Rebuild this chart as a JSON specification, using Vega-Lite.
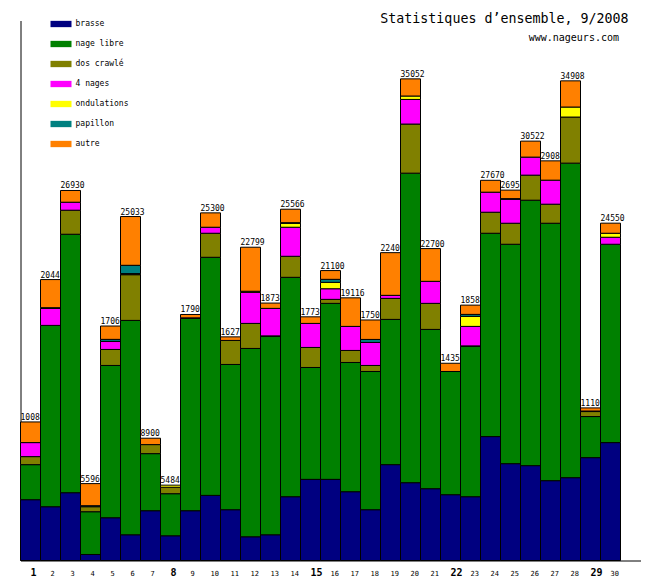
{
  "$schema": "https://vega.github.io/schema/vega-lite/v6.json",
  "width": 620,
  "height": 540,
  "autosize": {"type": "none"},
  "padding": {"left": 20.5, "top": 20.5, "right": 19.5, "bottom": 19.5},
  "background": "white",
  "config": {"view": {"stroke": null}, "font": "DejaVu Sans Mono"},
  "title": {
    "text": "Statistiques d’ensemble, 9/2008",
    "anchor": "end",
    "frame": "group",
    "orient": "top",
    "font": "DejaVu Sans Mono",
    "fontSize": 13.3,
    "fontWeight": "normal",
    "color": "black",
    "offset": -12,
    "dx": -12
  },
  "data": {
    "values": [
      {"jour": 1, "nage": "brasse", "valeur": 4425}, {"jour": 1, "nage": "nage libre", "valeur": 2551}, {"jour": 1, "nage": "dos crawlé", "valeur": 584}, {"jour": 1, "nage": "4 nages", "valeur": 1020}, {"jour": 1, "nage": "autre", "valeur": 1504},
      {"jour": 2, "nage": "brasse", "valeur": 3915}, {"jour": 2, "nage": "nage libre", "valeur": 13195}, {"jour": 2, "nage": "4 nages", "valeur": 1239}, {"jour": 2, "nage": "papillon", "valeur": 50}, {"jour": 2, "nage": "autre", "valeur": 2046},
      {"jour": 3, "nage": "brasse", "valeur": 4935}, {"jour": 3, "nage": "nage libre", "valeur": 18809}, {"jour": 3, "nage": "dos crawlé", "valeur": 1749}, {"jour": 3, "nage": "4 nages", "valeur": 583}, {"jour": 3, "nage": "autre", "valeur": 854},
      {"jour": 4, "nage": "brasse", "valeur": 437}, {"jour": 4, "nage": "nage libre", "valeur": 3113}, {"jour": 4, "nage": "dos crawlé", "valeur": 365}, {"jour": 4, "nage": "papillon", "valeur": 73}, {"jour": 4, "nage": "autre", "valeur": 1608},
      {"jour": 5, "nage": "brasse", "valeur": 3113}, {"jour": 5, "nage": "nage libre", "valeur": 11081}, {"jour": 5, "nage": "dos crawlé", "valeur": 1166}, {"jour": 5, "nage": "4 nages", "valeur": 583}, {"jour": 5, "nage": "papillon", "valeur": 150}, {"jour": 5, "nage": "autre", "valeur": 972},
      {"jour": 6, "nage": "brasse", "valeur": 1874}, {"jour": 6, "nage": "nage libre", "valeur": 15600}, {"jour": 6, "nage": "dos crawlé", "valeur": 3326}, {"jour": 6, "nage": "4 nages", "valeur": 40}, {"jour": 6, "nage": "ondulations", "valeur": 40}, {"jour": 6, "nage": "papillon", "valeur": 604}, {"jour": 6, "nage": "autre", "valeur": 3549},
      {"jour": 7, "nage": "brasse", "valeur": 3623}, {"jour": 7, "nage": "nage libre", "valeur": 4155}, {"jour": 7, "nage": "dos crawlé", "valeur": 657}, {"jour": 7, "nage": "autre", "valeur": 465},
      {"jour": 8, "nage": "brasse", "valeur": 1801}, {"jour": 8, "nage": "nage libre", "valeur": 3061}, {"jour": 8, "nage": "dos crawlé", "valeur": 470}, {"jour": 8, "nage": "ondulations", "valeur": 152},
      {"jour": 9, "nage": "brasse", "valeur": 3623}, {"jour": 9, "nage": "nage libre", "valeur": 13997}, {"jour": 9, "nage": "4 nages", "valeur": 40}, {"jour": 9, "nage": "autre", "valeur": 245},
      {"jour": 10, "nage": "brasse", "valeur": 4739}, {"jour": 10, "nage": "nage libre", "valeur": 17328}, {"jour": 10, "nage": "dos crawlé", "valeur": 1749}, {"jour": 10, "nage": "4 nages", "valeur": 438}, {"jour": 10, "nage": "autre", "valeur": 1046},
      {"jour": 11, "nage": "brasse", "valeur": 3696}, {"jour": 11, "nage": "nage libre", "valeur": 10571}, {"jour": 11, "nage": "dos crawlé", "valeur": 1749}, {"jour": 11, "nage": "autre", "valeur": 259},
      {"jour": 12, "nage": "brasse", "valeur": 1728}, {"jour": 12, "nage": "nage libre", "valeur": 13705}, {"jour": 12, "nage": "dos crawlé", "valeur": 1822}, {"jour": 12, "nage": "4 nages", "valeur": 2260}, {"jour": 12, "nage": "ondulations", "valeur": 80}, {"jour": 12, "nage": "autre", "valeur": 3204},
      {"jour": 13, "nage": "brasse", "valeur": 1874}, {"jour": 13, "nage": "nage libre", "valeur": 14434}, {"jour": 13, "nage": "dos crawlé", "valeur": 40}, {"jour": 13, "nage": "4 nages", "valeur": 2001}, {"jour": 13, "nage": "autre", "valeur": 386},
      {"jour": 14, "nage": "brasse", "valeur": 4644}, {"jour": 14, "nage": "nage libre", "valeur": 15965}, {"jour": 14, "nage": "dos crawlé", "valeur": 1531}, {"jour": 14, "nage": "4 nages", "valeur": 2114}, {"jour": 14, "nage": "ondulations", "valeur": 291}, {"jour": 14, "nage": "papillon", "valeur": 40}, {"jour": 14, "nage": "autre", "valeur": 981},
      {"jour": 15, "nage": "brasse", "valeur": 5905}, {"jour": 15, "nage": "nage libre", "valeur": 8143}, {"jour": 15, "nage": "dos crawlé", "valeur": 1458}, {"jour": 15, "nage": "4 nages", "valeur": 1749}, {"jour": 15, "nage": "autre", "valeur": 480},
      {"jour": 16, "nage": "brasse", "valeur": 5905}, {"jour": 16, "nage": "nage libre", "valeur": 12808}, {"jour": 16, "nage": "dos crawlé", "valeur": 292}, {"jour": 16, "nage": "4 nages", "valeur": 773}, {"jour": 16, "nage": "ondulations", "valeur": 466}, {"jour": 16, "nage": "papillon", "valeur": 219}, {"jour": 16, "nage": "autre", "valeur": 637},
      {"jour": 17, "nage": "brasse", "valeur": 5008}, {"jour": 17, "nage": "nage libre", "valeur": 9404}, {"jour": 17, "nage": "dos crawlé", "valeur": 875}, {"jour": 17, "nage": "4 nages", "valeur": 1750}, {"jour": 17, "nage": "autre", "valeur": 2079},
      {"jour": 18, "nage": "brasse", "valeur": 3696}, {"jour": 18, "nage": "nage libre", "valeur": 10060}, {"jour": 18, "nage": "dos crawlé", "valeur": 438}, {"jour": 18, "nage": "4 nages", "valeur": 1676}, {"jour": 18, "nage": "papillon", "valeur": 219}, {"jour": 18, "nage": "autre", "valeur": 1416},
      {"jour": 19, "nage": "brasse", "valeur": 6977}, {"jour": 19, "nage": "nage libre", "valeur": 10570}, {"jour": 19, "nage": "dos crawlé", "valeur": 1531}, {"jour": 19, "nage": "4 nages", "valeur": 219}, {"jour": 19, "nage": "autre", "valeur": 3108},
      {"jour": 20, "nage": "brasse", "valeur": 5664}, {"jour": 20, "nage": "nage libre", "valeur": 22526}, {"jour": 20, "nage": "dos crawlé", "valeur": 3573}, {"jour": 20, "nage": "4 nages", "valeur": 1793}, {"jour": 20, "nage": "ondulations", "valeur": 248}, {"jour": 20, "nage": "autre", "valeur": 1248},
      {"jour": 21, "nage": "brasse", "valeur": 5227}, {"jour": 21, "nage": "nage libre", "valeur": 11591}, {"jour": 21, "nage": "dos crawlé", "valeur": 1895}, {"jour": 21, "nage": "4 nages", "valeur": 1604}, {"jour": 21, "nage": "autre", "valeur": 2383},
      {"jour": 22, "nage": "brasse", "valeur": 4790}, {"jour": 22, "nage": "nage libre", "valeur": 8966}, {"jour": 22, "nage": "autre", "valeur": 599},
      {"jour": 23, "nage": "brasse", "valeur": 4644}, {"jour": 23, "nage": "nage libre", "valeur": 10935}, {"jour": 23, "nage": "dos crawlé", "valeur": 40}, {"jour": 23, "nage": "4 nages", "valeur": 1418}, {"jour": 23, "nage": "ondulations", "valeur": 729}, {"jour": 23, "nage": "papillon", "valeur": 145}, {"jour": 23, "nage": "autre", "valeur": 674},
      {"jour": 24, "nage": "brasse", "valeur": 9018}, {"jour": 24, "nage": "nage libre", "valeur": 14798}, {"jour": 24, "nage": "dos crawlé", "valeur": 1531}, {"jour": 24, "nage": "4 nages", "valeur": 1458}, {"jour": 24, "nage": "autre", "valeur": 865},
      {"jour": 25, "nage": "brasse", "valeur": 7049}, {"jour": 25, "nage": "nage libre", "valeur": 15966}, {"jour": 25, "nage": "dos crawlé", "valeur": 1530}, {"jour": 25, "nage": "4 nages", "valeur": 1750}, {"jour": 25, "nage": "papillon", "valeur": 40}, {"jour": 25, "nage": "autre", "valeur": 620},
      {"jour": 26, "nage": "brasse", "valeur": 6904}, {"jour": 26, "nage": "nage libre", "valeur": 19318}, {"jour": 26, "nage": "dos crawlé", "valeur": 1823}, {"jour": 26, "nage": "4 nages", "valeur": 1312}, {"jour": 26, "nage": "autre", "valeur": 1165},
      {"jour": 27, "nage": "brasse", "valeur": 5810}, {"jour": 27, "nage": "nage libre", "valeur": 18735}, {"jour": 27, "nage": "dos crawlé", "valeur": 1386}, {"jour": 27, "nage": "4 nages", "valeur": 1749}, {"jour": 27, "nage": "autre", "valeur": 1405},
      {"jour": 28, "nage": "brasse", "valeur": 6029}, {"jour": 28, "nage": "nage libre", "valeur": 22890}, {"jour": 28, "nage": "dos crawlé", "valeur": 3354}, {"jour": 28, "nage": "ondulations", "valeur": 729}, {"jour": 28, "nage": "autre", "valeur": 1906},
      {"jour": 29, "nage": "brasse", "valeur": 7487}, {"jour": 29, "nage": "nage libre", "valeur": 2989}, {"jour": 29, "nage": "dos crawlé", "valeur": 364}, {"jour": 29, "nage": "4 nages", "valeur": 40}, {"jour": 29, "nage": "autre", "valeur": 225},
      {"jour": 30, "nage": "brasse", "valeur": 8580}, {"jour": 30, "nage": "nage libre", "valeur": 14435}, {"jour": 30, "nage": "4 nages", "valeur": 510}, {"jour": 30, "nage": "ondulations", "valeur": 291}, {"jour": 30, "nage": "autre", "valeur": 734}
    ]
  },
  "transform": [
    {"calculate": "indexof(['brasse', 'nage libre', 'dos crawlé', '4 nages', 'ondulations', 'papillon', 'autre'], datum.nage)", "as": "rang"}
  ],
  "layer": [
    {
      "mark": {"type": "text", "align": "left", "baseline": "alphabetic", "font": "DejaVu Sans Mono", "fontSize": 8, "dy": -2, "color": "black"},
      "encoding": {
        "x": {
          "field": "jour", "type": "ordinal", "bandPosition": 0,
          "scale": {"paddingInner": 0, "paddingOuter": 0.5, "align": 0},
          "axis": {
            "title": null, "ticks": false, "grid": false, "domainColor": "black", "domainWidth": 1,
            "labelAngle": 0, "labelAlign": "left", "labelBaseline": "alphabetic", "labelPadding": 15,
            "labelFont": "DejaVu Sans Mono", "labelColor": "black", "labelOverlap": false, "labelFlush": false,
            "labelFontSize": {"condition": {"test": "indexof([1, 8, 15, 22, 29], datum.value) >= 0", "value": 10}, "value": 7},
            "labelFontWeight": {"condition": {"test": "indexof([1, 8, 15, 22, 29], datum.value) >= 0", "value": "bold"}, "value": "normal"}
          }
        },
        "y": {
          "aggregate": "sum", "field": "valeur", "type": "quantitative",
          "scale": {"domain": [0, 39300]},
          "axis": {
            "title": "www.nageurs.com", "titleAngle": 0, "titleX": 598, "titleY": 19.5, "titleAlign": "right", "titleBaseline": "alphabetic",
            "titleFont": "DejaVu Sans Mono", "titleFontSize": 10, "titleFontWeight": "normal", "titleColor": "black",
            "labels": false, "ticks": false, "grid": false, "domainColor": "black", "domainWidth": 1
          }
        },
        "text": {"aggregate": "sum", "field": "valeur", "type": "quantitative", "format": "d"}
      }
    },
    {
      "mark": {"type": "bar", "stroke": "black", "strokeWidth": 1},
      "encoding": {
        "x": {
          "field": "jour", "type": "ordinal",
          "scale": {"paddingInner": 0, "paddingOuter": 0.5, "align": 0},
          "axis": {
            "title": null, "ticks": false, "grid": false, "domainColor": "black", "domainWidth": 1,
            "labelAngle": 0, "labelAlign": "left", "labelBaseline": "alphabetic", "labelPadding": 15,
            "labelFont": "DejaVu Sans Mono", "labelColor": "black", "labelOverlap": false, "labelFlush": false,
            "labelFontSize": {"condition": {"test": "indexof([1, 8, 15, 22, 29], datum.value) >= 0", "value": 10}, "value": 7},
            "labelFontWeight": {"condition": {"test": "indexof([1, 8, 15, 22, 29], datum.value) >= 0", "value": "bold"}, "value": "normal"}
          }
        },
        "y": {
          "field": "valeur", "type": "quantitative", "stack": "zero",
          "scale": {"domain": [0, 39300]},
          "axis": {
            "title": "www.nageurs.com", "titleAngle": 0, "titleX": 598, "titleY": 19.5, "titleAlign": "right", "titleBaseline": "alphabetic",
            "titleFont": "DejaVu Sans Mono", "titleFontSize": 10, "titleFontWeight": "normal", "titleColor": "black",
            "labels": false, "ticks": false, "grid": false, "domainColor": "black", "domainWidth": 1
          }
        },
        "color": {
          "field": "nage", "type": "nominal",
          "scale": {
            "domain": ["brasse", "nage libre", "dos crawlé", "4 nages", "ondulations", "papillon", "autre"],
            "range": ["#000080", "#008000", "#808000", "#ff00ff", "#ffff00", "#008080", "#ff8000"]
          },
          "legend": {
            "orient": "none", "legendX": 30, "legendY": -7, "title": null, "padding": 0,
            "symbolType": "M-1,-0.3H1V0.3H-1Z", "symbolSize": 441, "symbolStrokeWidth": 0, "symbolOpacity": 1,
            "labelFont": "DejaVu Sans Mono", "labelFontSize": 8, "labelColor": "black", "labelOffset": 4,
            "rowPadding": 5
          }
        },
        "order": {"field": "rang", "type": "quantitative", "sort": "ascending"}
      }
    }
  ]
}
